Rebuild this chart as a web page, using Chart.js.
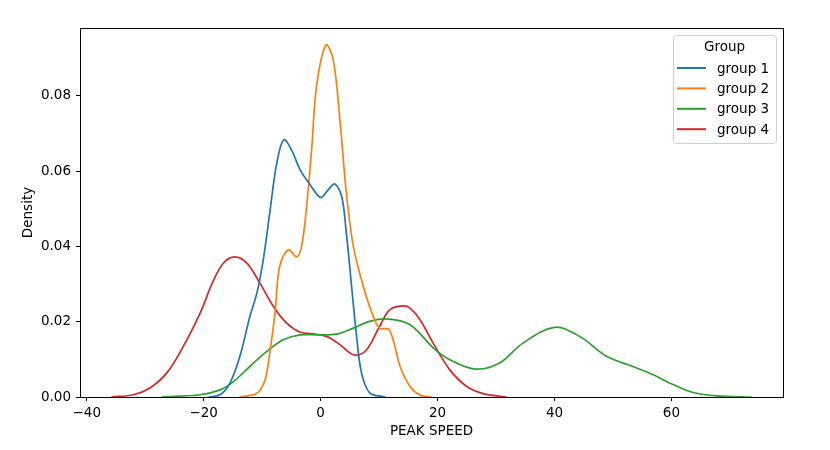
<!DOCTYPE html>
<html>
<head>
<meta charset="utf-8">
<script src="https://cdn.jsdelivr.net/npm/chart.js@4/dist/chart.umd.min.js"></script>
<style>
  html, body { margin: 0; padding: 0; background: #fff; }
  #wrap { width: 830px; height: 450px; position: relative; }
</style>
</head>
<body>
<div id="wrap"><canvas id="graph"></canvas></div>
<script>
// Данные (KDE по группам)
const group1X = [-19.2, -17.2, -15.5, -13.8, -12.1, -10.9, -9.8, -8.7, -7.5, -6.3, -5.0, -3.5, -1.8, 0, 1.3, 2.4, 3.6, 4.4, 5.3, 6.15, 7.0, 8.4, 11.1];
const group1Y = [0, 0.0006, 0.0037, 0.0108, 0.0214, 0.0276, 0.0365, 0.0489, 0.0621, 0.0683, 0.0657, 0.0603, 0.0564, 0.0530, 0.0550, 0.0566, 0.0533, 0.0435, 0.0294, 0.0161, 0.0064, 0.0011, 0];

const group2X = [-13.9, -10.9, -9.5, -8.7, -7.8, -7.0, -5.5, -4.1, -3.25, -2.4, -1.5, -0.7, 0.9, 2.15, 3.3, 4.4, 5.6, 7.3, 9.0, 10.1, 11.6, 12.4, 13.6, 15.3, 17.0, 19.0];
const group2Y = [0, 0.001, 0.0046, 0.0117, 0.0223, 0.0347, 0.0391, 0.0372, 0.0400, 0.0506, 0.0665, 0.0825, 0.0935, 0.0896, 0.0736, 0.0542, 0.0400, 0.0294, 0.0214, 0.0183, 0.0180, 0.0152, 0.0081, 0.0028, 0.0005, 0];

const group3X = [-27.2, -20.6, -17.2, -14.9, -12.1, -9.2, -6.4, -3.5, 0, 2.7, 5.6, 8.4, 11.6, 15.3, 19.3, 22.1, 26.5, 30.6, 34.6, 40.0, 44.3, 48.9, 53.4, 56.9, 60.3, 63.7, 67.7, 73.7];
const group3Y = [0, 0.0006, 0.0019, 0.0041, 0.0081, 0.0121, 0.0152, 0.0165, 0.0165, 0.0167, 0.0183, 0.0201, 0.0207, 0.0192, 0.0130, 0.0099, 0.0074, 0.0090, 0.0143, 0.0185, 0.0161, 0.0108, 0.0081, 0.0059, 0.0033, 0.0012, 0.0003, 0];

const group4X = [-35.8, -32.0, -29.2, -26.3, -23.5, -20.6, -18.4, -16.6, -14.65, -12.65, -10.4, -8.1, -5.8, -3.5, -1.3, 1.0, 3.3, 5.0, 6.3, 7.9, 10.1, 11.85, 14.1, 15.3, 17.0, 19.25, 22.1, 25.0, 27.8, 31.8];
const group4Y = [0, 0.0006, 0.0024, 0.0064, 0.0134, 0.0223, 0.0307, 0.0356, 0.0372, 0.0356, 0.0303, 0.0241, 0.0196, 0.0172, 0.0168, 0.0161, 0.0139, 0.0117, 0.0111, 0.0126, 0.0188, 0.0232, 0.0242, 0.0236, 0.0205, 0.0143, 0.0072, 0.0028, 0.0009, 0];

const groupNames = ['group 1', 'group 2', 'group 3', 'group 4'];
const groupColors = ['#1f77b4', '#ff7f0e', '#2ca02c', '#d62728'];
const xTicks = [-40, -20, 0, 20, 40, 60];
const yTicks = [0, 0.02, 0.04, 0.06, 0.08];

const FONT = 'DejaVu Sans';
const FSIZE = 13.5;

function toPoints(xs, ys) {
    return xs.map((x, i) => ({ x: x, y: ys[i] }));
}

const series = [[group1X, group1Y], [group2X, group2Y], [group3X, group3Y], [group4X, group4Y]];
const datasets = series.map(([xs, ys], i) => ({
    label: groupNames[i],
    data: toPoints(xs, ys),
    borderColor: groupColors[i],
    borderWidth: 1.7,
    pointRadius: 0,
    fill: false,
    tension: 0.35
}));

// Рамка вокруг области графика и легенда внутри неё
const framePlugin = {
    id: 'frame',
    afterDraw(chart) {
        const { ctx, chartArea: a } = chart;
        ctx.save();
        ctx.strokeStyle = '#000';
        ctx.lineWidth = 1;
        ctx.strokeRect(Math.round(a.left) + 0.5, Math.round(a.top) + 0.5,
            Math.round(a.right - a.left), Math.round(a.bottom - a.top));

        // легенда
        const w = 103, h = 108;
        const x0 = a.right - 7 - w, y0 = a.top + 7;
        ctx.beginPath();
        ctx.roundRect(x0 + 0.5, y0 + 0.5, w, h, 3);
        ctx.fillStyle = 'rgba(255,255,255,0.8)';
        ctx.fill();
        ctx.strokeStyle = '#d0d0d0';
        ctx.stroke();

        ctx.fillStyle = '#000';
        ctx.font = FSIZE + 'px "' + FONT + '"';
        ctx.textAlign = 'center';
        ctx.textBaseline = 'middle';
        ctx.fillText('Group', x0 + w / 2, y0 + 12);

        ctx.textAlign = 'left';
        chart.data.datasets.forEach((ds, i) => {
            const y = y0 + 33 + i * 20.4;
            ctx.beginPath();
            ctx.moveTo(x0 + 4, y);
            ctx.lineTo(x0 + 33, y);
            ctx.strokeStyle = ds.borderColor;
            ctx.lineWidth = 2;
            ctx.stroke();
            ctx.fillStyle = '#000';
            ctx.fillText(ds.label, x0 + 44, y + 1);
        });
        ctx.restore();
    }
};

const ctx = document.getElementById('graph').getContext('2d');
const Graph = new Chart(ctx, {
    type: 'line',
    data: { datasets: datasets },
    plugins: [framePlugin],
    options: {
        responsive: true,
        maintainAspectRatio: false,
        animation: false,
        layout: { padding: { left: 0, top: 28, right: 47, bottom: 0 } },
        plugins: {
            legend: { display: false },
            tooltip: { enabled: false }
        },
        scales: {
            x: {
                type: 'linear',
                min: -41.15,
                max: 79.08,
                afterBuildTicks: (scale) => { scale.ticks = xTicks.map(v => ({ value: v })); },
                afterFit: (scale) => { scale.height = 53; },
                border: { display: false },
                grid: { drawOnChartArea: false, drawTicks: true, tickLength: 4, color: '#000' },
                ticks: {
                    color: '#000',
                    padding: 4,
                    maxRotation: 0,
                    font: { family: FONT, size: FSIZE },
                    callback: (v) => String(v).replace('-', '\u2212')
                },
                title: {
                    display: true,
                    text: 'PEAK SPEED',
                    color: '#000',
                    font: { family: FONT, size: FSIZE },
                    padding: { top: 0, bottom: 10 }
                }
            },
            y: {
                type: 'linear',
                min: 0,
                max: 0.098,
                afterBuildTicks: (scale) => { scale.ticks = yTicks.map(v => ({ value: v })); },
                afterFit: (scale) => { scale.width = 80; },
                border: { display: false },
                grid: { drawOnChartArea: false, drawTicks: true, tickLength: 4, color: '#000' },
                ticks: {
                    color: '#000',
                    padding: 5,
                    font: { family: FONT, size: FSIZE },
                    callback: (v) => v.toFixed(2)
                },
                title: {
                    display: true,
                    text: 'Density',
                    color: '#000',
                    font: { family: FONT, size: FSIZE },
                    padding: { top: 20, bottom: 0 }
                }
            }
        }
    }
});
</script>
</body>
</html>
